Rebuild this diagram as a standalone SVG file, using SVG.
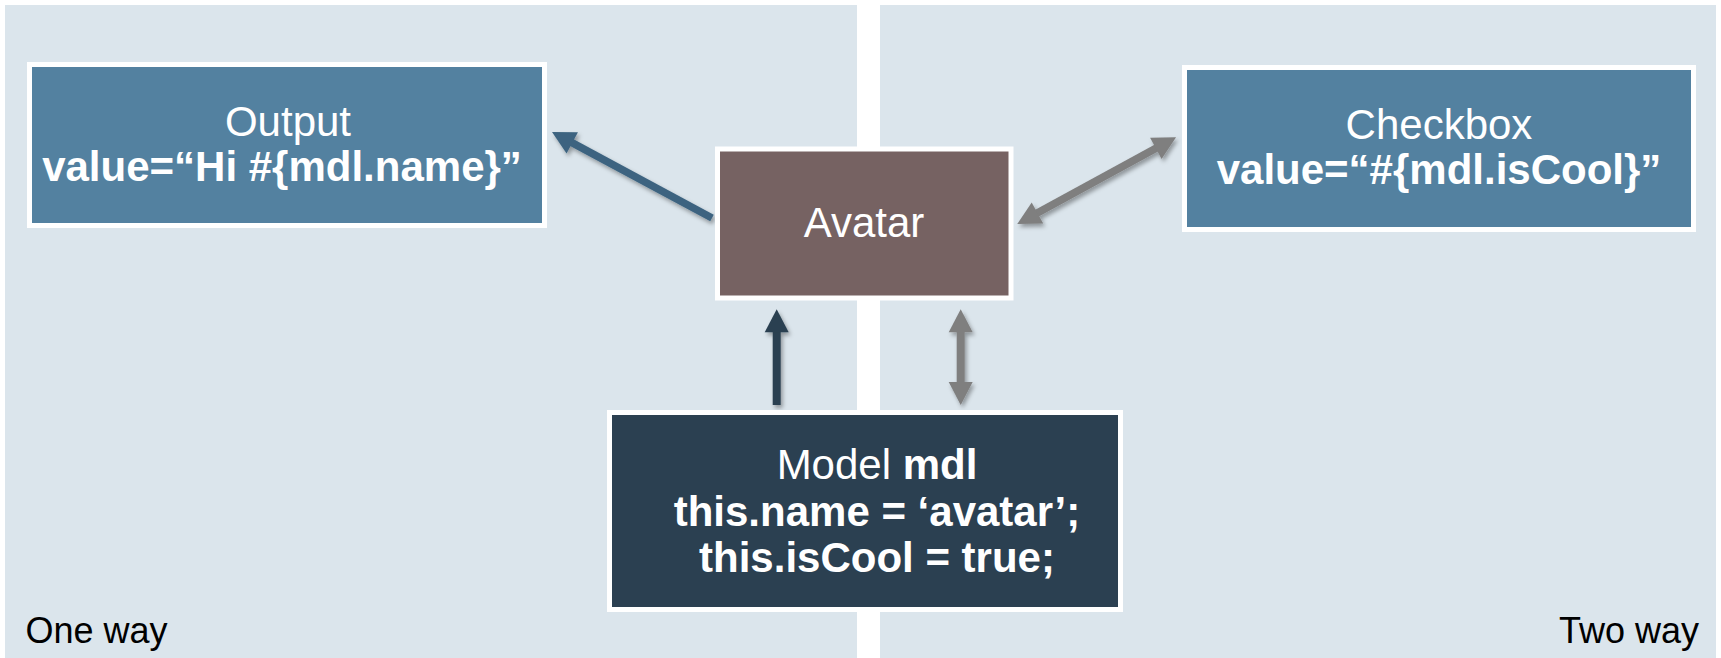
<svg xmlns="http://www.w3.org/2000/svg" width="1721" height="658" viewBox="0 0 1721 658">
<defs>
<style>
.panel{fill:#DBE5EC}
.box{stroke:#FFFFFF;stroke-width:5}
.t{font-family:"Liberation Sans",Arial,sans-serif;font-size:42px;fill:#FFFFFF;text-anchor:middle}
.b{font-weight:bold}
.lbl{font-family:"Liberation Sans",Arial,sans-serif;font-size:36px;fill:#000000}
.c1{stroke:#3D6480;stroke-width:7.5;fill:none}
.c2{stroke:#7F7F7F;stroke-width:7.5;fill:none}
.c3{stroke:#2B4051;stroke-width:8;fill:none}
.c4{stroke:#7F7F7F;stroke-width:8;fill:none}
</style>
<filter id="sh" x="-20%" y="-20%" width="140%" height="140%">
<feDropShadow dx="2" dy="3" stdDeviation="2" flood-color="#000" flood-opacity="0.35"/>
</filter>
<marker id="hBlue" markerUnits="userSpaceOnUse" viewBox="-2 -13 26 26" refX="2" refY="0" markerWidth="26" markerHeight="26" orient="auto-start-reverse">
<path d="M0,-12 L23,0 L0,12 z" fill="#3D6480"/>
</marker>
<marker id="hGray" markerUnits="userSpaceOnUse" viewBox="-2 -13 26 26" refX="2" refY="0" markerWidth="26" markerHeight="26" orient="auto-start-reverse">
<path d="M0,-12 L23,0 L0,12 z" fill="#7F7F7F"/>
</marker>
<marker id="hDark" markerUnits="userSpaceOnUse" viewBox="-2 -13 26 26" refX="2" refY="0" markerWidth="26" markerHeight="26" orient="auto-start-reverse">
<path d="M0,-12 L23,0 L0,12 z" fill="#2B4051"/>
</marker>
</defs>
<rect x="0" y="0" width="1721" height="658" fill="#FFFFFF"/>
<g id="panels">
<rect class="panel" x="5" y="5" width="852" height="653"/>
<rect class="panel" x="880" y="5" width="836" height="653"/>
</g>
<g id="connectors" filter="url(#sh)">
<line class="c1" x1="712" y1="218" x2="570.5" y2="141.9" marker-end="url(#hBlue)"/>
<line class="c2" x1="1035.7" y1="213.9" x2="1157.6" y2="147.4" marker-start="url(#hGray)" marker-end="url(#hGray)"/>
<line class="c3" x1="776.7" y1="405" x2="776.7" y2="330.3" marker-end="url(#hDark)"/>
<line class="c4" x1="960.7" y1="384" x2="960.7" y2="330.3" marker-start="url(#hGray)" marker-end="url(#hGray)"/>
</g>
<g id="output">
<rect class="box" x="29.5" y="64.5" width="515" height="161" fill="#5381A0"/>
<text class="t" x="288" y="135.5">Output</text>
<text class="t b" x="282" y="181">value=“Hi #{mdl.name}”</text>
</g>
<g id="avatar">
<rect class="box" x="717.5" y="149" width="293.5" height="149" fill="#766262"/>
<text class="t" x="864" y="237">Avatar</text>
</g>
<g id="checkbox">
<rect class="box" x="1184.5" y="67.5" width="509" height="162" fill="#5381A0"/>
<text class="t" x="1439" y="139">Checkbox</text>
<text class="t b" x="1439" y="184">value=“#{mdl.isCool}”</text>
</g>
<g id="model">
<rect class="box" x="609.5" y="412.5" width="511" height="197" fill="#2B4051"/>
<text class="t" x="877" y="479">Model <tspan class="b">mdl</tspan></text>
<text class="t b" x="877" y="526">this.name = ‘avatar’;</text>
<text class="t b" x="877" y="572">this.isCool = true;</text>
</g>
<g id="labels">
<text class="lbl" x="25.5" y="643">One way</text>
<text class="lbl" x="1699" y="643" text-anchor="end">Two way</text>
</g>
</svg>
